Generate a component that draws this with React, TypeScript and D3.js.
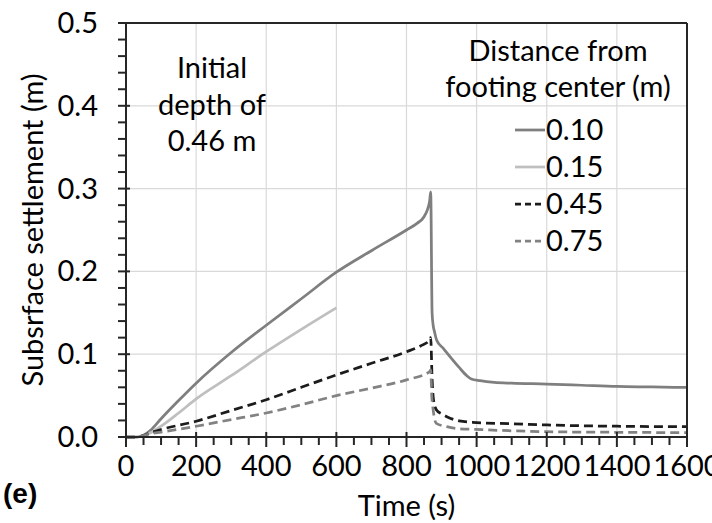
import React from "react";
import * as d3 from "d3";

const times10 = [0, 30, 50, 70, 100, 150, 200, 300, 400, 500, 600, 700, 800, 830, 850, 860, 866, 869, 873, 876, 880, 886, 905, 924, 950, 972, 985, 1010, 1050, 1100, 1200, 1300, 1400, 1500, 1600];
const s10 = [0, 0, 0.002, 0.008, 0.022, 0.044, 0.065, 0.102, 0.135, 0.167, 0.199, 0.225, 0.25, 0.258, 0.266, 0.275, 0.285, 0.296, 0.15, 0.135, 0.127, 0.117, 0.107, 0.097, 0.084, 0.074, 0.07, 0.068, 0.066, 0.065, 0.064, 0.0625, 0.061, 0.0605, 0.0598];

const times15 = [0, 30, 50, 70, 100, 150, 200, 300, 400, 500, 600];
const s15 = [0, 0, 0.002, 0.005, 0.013, 0.029, 0.046, 0.074, 0.103, 0.13, 0.156];

const times45 = [0, 30, 70, 100, 200, 300, 400, 500, 600, 700, 800, 840, 866, 869, 873, 877, 885, 900, 915, 950, 1000, 1100, 1200, 1400, 1600];
const s45 = [0, 0, 0.005, 0.009, 0.019, 0.032, 0.045, 0.06, 0.075, 0.089, 0.103, 0.11, 0.117, 0.12, 0.07, 0.045, 0.033, 0.028, 0.0245, 0.0195, 0.0175, 0.016, 0.0145, 0.013, 0.0125];

const times75 = [0, 30, 70, 100, 200, 300, 400, 500, 600, 700, 800, 866, 869, 872, 876, 885, 915, 950, 990, 1100, 1200, 1400, 1600];
const s75 = [0, 0, 0.004, 0.006, 0.013, 0.021, 0.029, 0.039, 0.05, 0.059, 0.069, 0.079, 0.081, 0.05, 0.033, 0.0165, 0.0125, 0.01, 0.0093, 0.0075, 0.0064, 0.0057, 0.0052];

const legendLabels = ["0.10", "0.15", "0.45", "0.75"];
const xTicks = [0, 200, 400, 600, 800, 1000, 1200, 1400, 1600];
const yTicks = [0, 0.1, 0.2, 0.3, 0.4, 0.5];

const FONT = "Lato, 'Open Sans', sans-serif";
const FS = 29;

export default function App() {
  const W = 712, H = 523;
  const left = 126, right = 687, top = 23, bottom = 437;
  const x = d3.scaleLinear().domain([0, 1600]).range([left, right]);
  const y = d3.scaleLinear().domain([0, 0.5]).range([bottom, top]);

  const series = [
    { t: times10, v: s10, color: "#7f7f7f", dash: null },
    { t: times15, v: s15, color: "#bfbfbf", dash: null },
    { t: times45, v: s45, color: "#1c1c1c", dash: "9,5" },
    { t: times75, v: s75, color: "#828282", dash: "9,5" },
  ];

  const line = d3
    .line<[number, number]>()
    .x((d) => x(d[0]))
    .y((d) => y(d[1]))
    .curve(d3.curveMonotoneX);

  const xMinor = d3.range(0, 1601, 50);
  const yMinor = d3.range(0, 0.5001, 0.02);
  const axisColor = "#262626";

  return (
    <svg width={W} height={H} style={{ position: "absolute", left: 0, top: 0, background: "#fff" }} fontFamily={FONT}>
      <rect x={0} y={0} width={W} height={H} fill="#fff" />
      {xTicks.slice(1, -1).map((t) => (
        <line key={"gx" + t} x1={x(t)} x2={x(t)} y1={top} y2={bottom} stroke="#d9d9d9" strokeWidth={1.2} />
      ))}
      {yTicks.slice(1, -1).map((v) => (
        <line key={"gy" + v} x1={left} x2={right} y1={y(v)} y2={y(v)} stroke="#d9d9d9" strokeWidth={1.2} />
      ))}

      {series.map((s, i) => (
        <path
          key={"s" + i}
          d={line(s.t.map((t, j) => [t, s.v[j]] as [number, number])) || ""}
          fill="none"
          stroke={s.color}
          strokeWidth={2.75}
          strokeDasharray={s.dash || undefined}
          strokeLinejoin="round"
        />
      ))}

      <line x1={left} x2={right} y1={top} y2={top} stroke={axisColor} strokeWidth={2} />
      <line x1={right} x2={right} y1={top} y2={bottom} stroke={axisColor} strokeWidth={2} />
      <line x1={left} x2={right + 1} y1={bottom} y2={bottom} stroke={axisColor} strokeWidth={2} />
      <line x1={left} x2={left} y1={top - 1} y2={bottom + 1} stroke={axisColor} strokeWidth={2} />

      {xMinor.map((t) => {
        const major = t % 200 === 0;
        return (
          <line key={"xt" + t} x1={x(t)} x2={x(t)} y1={major ? bottom - 5 : bottom} y2={bottom + (major ? 10 : 8)} stroke={axisColor} strokeWidth={2} />
        );
      })}
      {yMinor.map((v, i) => {
        const major = i % 5 === 0;
        return (
          <line key={"yt" + i} x1={left - 8} x2={major ? left + 4 : left} y1={y(v)} y2={y(v)} stroke={axisColor} strokeWidth={2} />
        );
      })}

      {xTicks.map((t) => (
        <text key={"xl" + t} x={x(t)} y={476} textAnchor="middle" fontSize={FS} fill="#000">
          {t}
        </text>
      ))}
      {yTicks.map((v) => (
        <text key={"yl" + v} x={98} y={y(v) + 10} textAnchor="end" fontSize={FS} fill="#000">
          {v.toFixed(1)}
        </text>
      ))}

      <text x={(left + right) / 2} y={516} textAnchor="middle" fontSize={FS} fill="#000">
        Time (s)
      </text>
      <text transform={`translate(43, ${(top + bottom) / 2}) rotate(-90)`} textAnchor="middle" fontSize={FS} fill="#000">
        Subsrface settlement (m)
      </text>

      <text x={3} y={503} fontSize={28} fontWeight="bold" fontFamily="'Liberation Sans', Arial, sans-serif" fill="#000">
        (e)
      </text>

      <text x={212} y={78} textAnchor="middle" fontSize={FS} fill="#000">Initial</text>
      <text x={212} y={115} textAnchor="middle" fontSize={FS} fill="#000">depth of</text>
      <text x={212} y={151} textAnchor="middle" fontSize={FS} fill="#000">0.46 m</text>

      <text x={558} y={61} textAnchor="middle" fontSize={FS} fill="#000">Distance from</text>
      <text x={558} y={97} textAnchor="middle" fontSize={FS} fill="#000">footing center (m)</text>
      {legendLabels.map((lab, i) => {
        const cy = 130 + i * 37;
        const s = series[i];
        return (
          <g key={"lg" + i}>
            <line x1={515} x2={545} y1={cy} y2={cy} stroke={s.color} strokeWidth={2.75} strokeDasharray={s.dash ? "6,4" : undefined} />
            <text x={546} y={cy + 10} fontSize={FS} fill="#000">{lab}</text>
          </g>
        );
      })}
    </svg>
  );
}
